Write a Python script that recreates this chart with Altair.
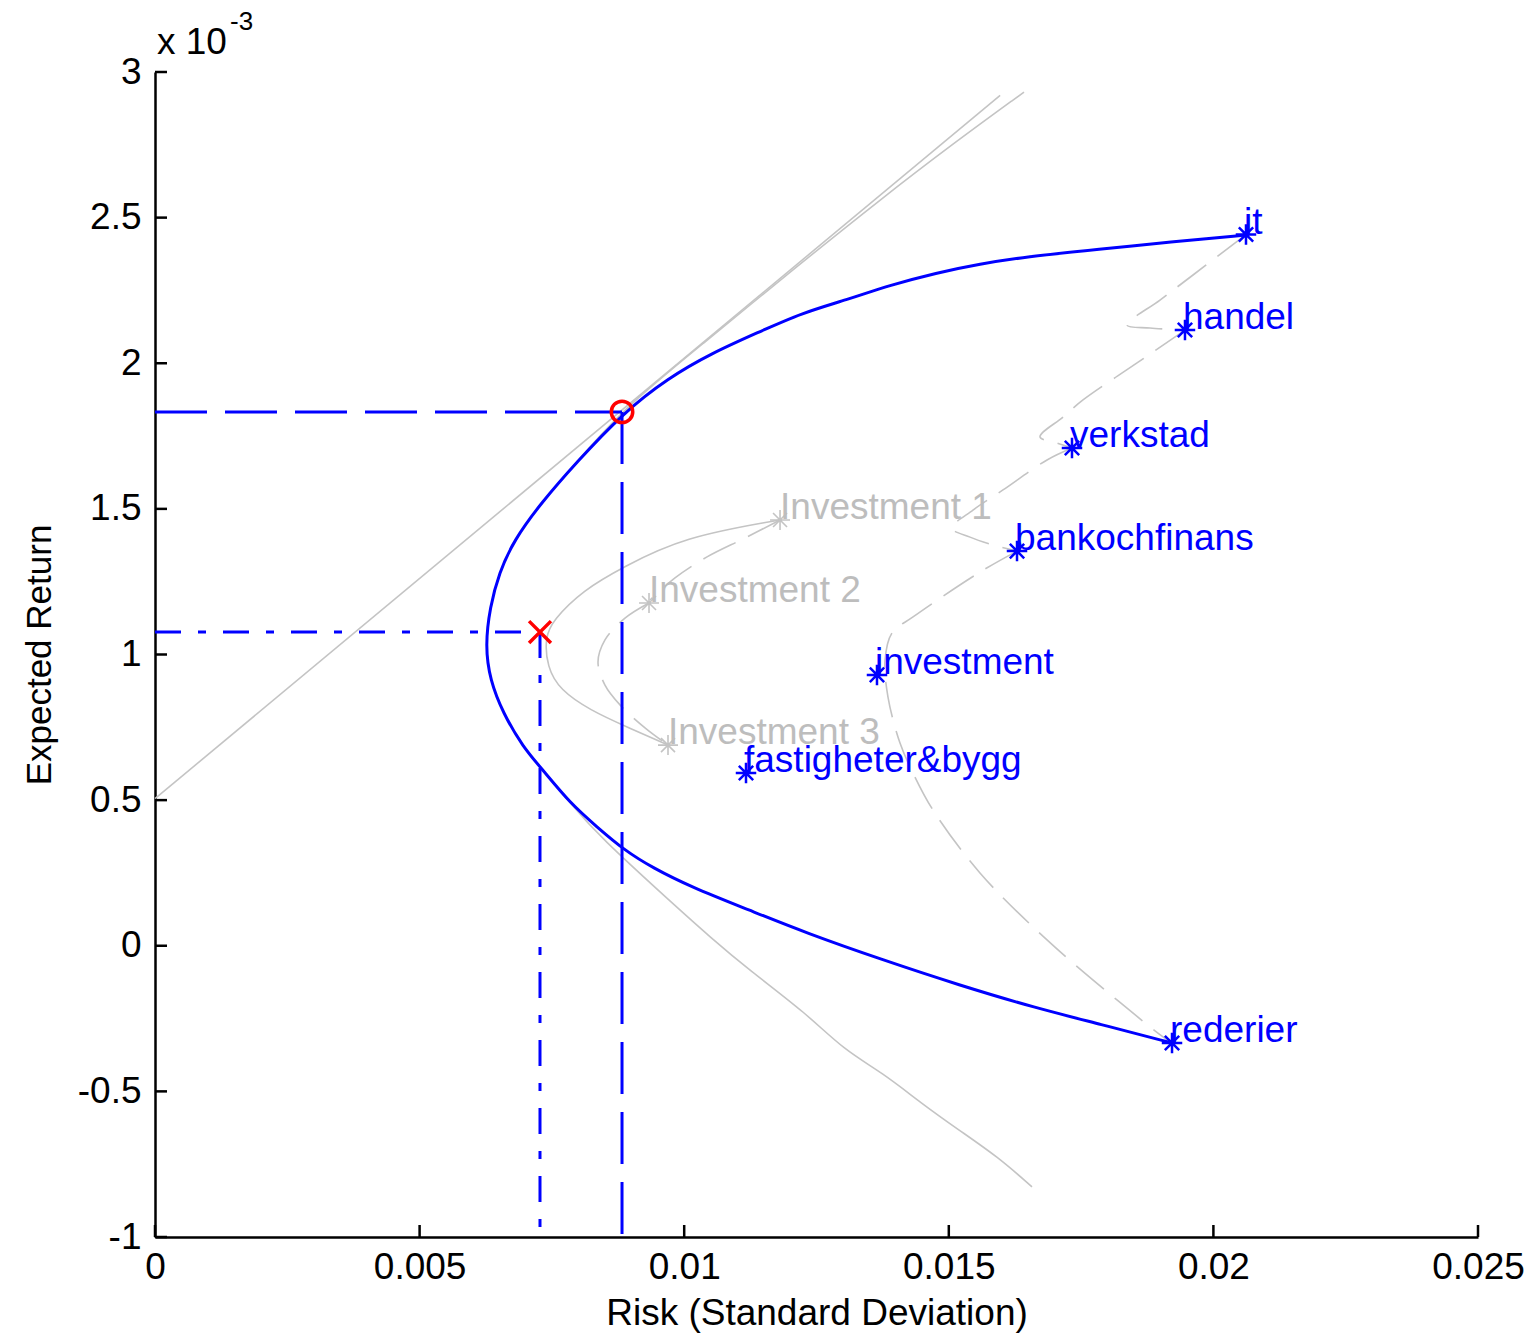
import altair as alt
import pandas as pd

# ---------------- data (sigma = risk, mu = expected return in units of 1e-3) -------------
X_TICKS = [0, 0.005, 0.01, 0.015, 0.02, 0.025]
Y_TICKS = [-1, -0.5, 0, 0.5, 1, 1.5, 2, 2.5, 3]

# efficient frontier (blue), from rederier through the vertex up to it
FRONT_SIGMA = [0.019218, 0.017857, 0.016648, 0.015192, 0.013756, 0.012301, 0.011224,
               0.010128, 0.009410, 0.008862, 0.008352, 0.007842, 0.007332, 0.006954,
               0.006576, 0.006330, 0.006240, 0.006330, 0.006500, 0.006784, 0.007294,
               0.007955, 0.008843, 0.009694, 0.010525, 0.011375, 0.012226, 0.013057,
               0.013908, 0.014758, 0.015589, 0.016440, 0.017857, 0.019180, 0.020616]
FRONT_MU = [-0.334, -0.269, -0.214, -0.135, -0.049, 0.044, 0.123,
            0.202, 0.267, 0.329, 0.408, 0.490, 0.603, 0.682,
            0.799, 0.912, 1.030, 1.163, 1.280, 1.393, 1.520,
            1.658, 1.829, 1.949, 2.035, 2.104, 2.173, 2.217,
            2.269, 2.310, 2.341, 2.365, 2.392, 2.416, 2.440]

ASSETS = ["it", "handel", "verkstad", "bankochfinans", "investment",
          "fastigheter&bygg", "rederier"]
ASSET_SIGMA = [0.020616, 0.019463, 0.017328, 0.016289, 0.013643, 0.011168, 0.019218]
ASSET_MU = [2.442, 2.114, 1.709, 1.355, 0.930, 0.593, -0.334]

# tangency portfolio (circle) and minimum-variance marker (x)
TANGENT = (0.008825, 1.833)
MINVAR = (0.007275, 1.077)

# ---- grey background elements ----
CML_SIGMA = [0.0, 0.01597]
CML_MU = [0.505, 2.920]

GFRONT_SIGMA = [0.016421, 0.015023, 0.013700, 0.012188, 0.010298, 0.008825, 0.007955,
                0.007294, 0.006784, 0.006500, 0.006330, 0.006240, 0.006330, 0.006576,
                0.006954, 0.007332, 0.007842, 0.008409, 0.009770, 0.010488, 0.011224,
                0.012301, 0.013020, 0.013756, 0.014475, 0.015192, 0.015930, 0.016572]
GFRONT_MU = [2.931, 2.746, 2.561, 2.341, 2.059, 1.840, 1.658,
             1.520, 1.393, 1.280, 1.163, 1.030, 0.912, 0.799,
             0.682, 0.603, 0.490, 0.373, 0.147, 0.030, -0.083,
             -0.231, -0.358, -0.437, -0.540, -0.633, -0.725, -0.828]

SMALL_SIGMA = [0.011811, 0.009977, 0.008844, 0.008088, 0.007521, 0.007370, 0.007408,
               0.007653, 0.008220, 0.008919, 0.009694]
SMALL_MU = [1.462, 1.403, 1.300, 1.221, 1.118, 1.060, 0.957, 0.878, 0.809, 0.751, 0.689]

INV_NAMES = ["Investment 1", "Investment 2", "Investment 3"]
INV_SIGMA = [0.011811, 0.009335, 0.009694]
INV_MU = [1.462, 1.177, 0.689]

# grey dashed curves (segments)
DASH_SEGS = {
    "i12": ([0.011811, 0.011149, 0.010431, 0.009826, 0.009354],
            [1.462, 1.400, 1.335, 1.263, 1.187]),
    "i23": ([0.009335, 0.008881, 0.008503, 0.008371, 0.008503, 0.008787, 0.009259, 0.009694],
            [1.177, 1.125, 1.050, 0.974, 0.895, 0.827, 0.748, 0.689]),
    "a": ([0.020616, 0.019615, 0.018991, 0.018367, 0.018802, 0.019463],
          [2.442, 2.303, 2.217, 2.131, 2.121, 2.114]),
    "b": ([0.019463, 0.018557, 0.017536, 0.017158, 0.016723, 0.017045, 0.017328],
          [2.114, 2.001, 1.874, 1.815, 1.747, 1.726, 1.709]),
    "c": ([0.017328, 0.016856, 0.016024, 0.015457, 0.015060, 0.015401, 0.015835, 0.016289],
          [1.709, 1.668, 1.565, 1.496, 1.434, 1.403, 1.376, 1.355]),
    "d": ([0.016289, 0.015589, 0.014324, 0.013927, 0.013795, 0.013851, 0.014078, 0.014324,
           0.014701, 0.015589, 0.016856, 0.018178, 0.019048, 0.019218],
          [1.355, 1.283, 1.129, 1.074, 0.981, 0.854, 0.696, 0.593,
           0.466, 0.250, 0.020, -0.186, -0.313, -0.334]),
}

# ---------------- styling -------------
W, H = 1323, 1165
BLUE = "#0000ff"
RED = "#ff0000"
GRAY = "#c4c4c4"
GRAYTXT = "#bdbdbd"
FONT = "Liberation Sans"

ASTERISK = "M-1,0L1,0M0,-1L0,1M-0.7,-0.7L0.7,0.7M-0.7,0.7L0.7,-0.7"
XSHAPE = "M-1,-1L1,1M-1,1L1,-1"

xscale = alt.Scale(domain=[0, 0.025], nice=False, zero=False)
yscale = alt.Scale(domain=[-1, 3], nice=False, zero=False)

xaxis = alt.Axis(values=X_TICKS, ticks=False, grid=False, labelExpr="'' + datum.value",
                 labelFlush=False, labelOverlap=False, labelPadding=12,
                 labelFontSize=37, labelFont=FONT, labelColor="black",
                 domainColor="black", domainWidth=2.5,
                 titleFontSize=37, titleFont=FONT, titleFontWeight="normal",
                 titleColor="black", titlePadding=10)
yaxis = alt.Axis(values=Y_TICKS, ticks=False, grid=False, labelExpr="'' + datum.value",
                 labelFlush=False, labelOverlap=False, labelPadding=14,
                 labelFontSize=37, labelFont=FONT, labelColor="black",
                 domainColor="black", domainWidth=2.5,
                 titleFontSize=35, titleFont=FONT, titleFontWeight="normal",
                 titleColor="black", titlePadding=20)


def X(field="sigma"):
    return alt.X(f"{field}:Q", scale=xscale, axis=xaxis, title="Risk (Standard Deviation)")


def Y(field="mu"):
    return alt.Y(f"{field}:Q", scale=yscale, axis=yaxis, title="Expected Return")


def line_df(sig, mu, seg="s"):
    return pd.DataFrame({"sigma": sig, "mu": mu, "order": list(range(len(sig))), "seg": seg})


front_df = line_df(FRONT_SIGMA, FRONT_MU)
cml_df = line_df(CML_SIGMA, CML_MU)
gfront_df = line_df(GFRONT_SIGMA, GFRONT_MU)
small_df = line_df(SMALL_SIGMA, SMALL_MU)
dash_df = pd.concat([line_df(s, m, k) for k, (s, m) in DASH_SEGS.items()], ignore_index=True)
assets_df = pd.DataFrame({"sigma": ASSET_SIGMA, "mu": ASSET_MU, "name": ASSETS})
inv_df = pd.DataFrame({"sigma": INV_SIGMA, "mu": INV_MU, "name": INV_NAMES})
tan_df = pd.DataFrame({"sigma": [TANGENT[0]], "mu": [TANGENT[1]], "zero": [0.0], "bottom": [-1.0]})
mv_df = pd.DataFrame({"sigma": [MINVAR[0]], "mu": [MINVAR[1]], "zero": [0.0], "bottom": [-1.0]})
xt_df = pd.DataFrame({"sigma": X_TICKS})
yt_df = pd.DataFrame({"mu": Y_TICKS})
exp_df = pd.DataFrame({"sigma": [0.0], "mu": [3.0]})

layers = []

# grey elements
layers.append(alt.Chart(cml_df).mark_line(color=GRAY, strokeWidth=1.6).encode(
    x=X(), y=Y(), order="order:Q"))
layers.append(alt.Chart(gfront_df).mark_line(color=GRAY, strokeWidth=1.6, interpolate="basis").encode(
    x=X(), y=Y(), order="order:Q"))
layers.append(alt.Chart(small_df).mark_line(color=GRAY, strokeWidth=1.6, interpolate="basis").encode(
    x=X(), y=Y(), order="order:Q"))
layers.append(alt.Chart(dash_df).mark_line(color=GRAY, strokeWidth=1.6, strokeDash=[36, 14],
                                           interpolate="catmull-rom").encode(
    x=X(), y=Y(), order="order:Q", detail="seg:N"))
layers.append(alt.Chart(inv_df).mark_point(shape=ASTERISK, size=400, color=GRAY, strokeWidth=1.6,
                                           filled=False, opacity=1).encode(x=X(), y=Y()))
layers.append(alt.Chart(inv_df).mark_text(align="left", baseline="middle", dx=0, dy=-12,
                                          fontSize=37, font=FONT, color=GRAYTXT).encode(
    x=X(), y=Y(), text="name:N"))

# blue frontier and assets
layers.append(alt.Chart(front_df).mark_line(color=BLUE, strokeWidth=3, interpolate="basis").encode(
    x=X(), y=Y(), order="order:Q"))
layers.append(alt.Chart(assets_df).mark_point(shape=ASTERISK, size=420, color=BLUE, strokeWidth=2.5,
                                              filled=False, opacity=1).encode(x=X(), y=Y()))
layers.append(alt.Chart(assets_df).mark_text(align="left", baseline="middle", dx=-2, dy=-12,
                                             fontSize=37, font=FONT, color=BLUE).encode(
    x=X(), y=Y(), text="name:N"))

# reference lines
layers.append(alt.Chart(tan_df).mark_rule(color=BLUE, strokeWidth=3, strokeDash=[52, 18]).encode(
    x=X("zero"), x2="sigma:Q", y=Y()))
layers.append(alt.Chart(tan_df).mark_rule(color=BLUE, strokeWidth=3, strokeDash=[52, 18]).encode(
    x=X(), y=Y(), y2="bottom:Q"))
layers.append(alt.Chart(mv_df).mark_rule(color=BLUE, strokeWidth=3, strokeDash=[26, 17, 8, 17]).encode(
    x=X("zero"), x2="sigma:Q", y=Y()))
layers.append(alt.Chart(mv_df).mark_rule(color=BLUE, strokeWidth=3, strokeDash=[26, 17, 8, 17]).encode(
    x=X(), y=Y(), y2="bottom:Q"))

# red markers
layers.append(alt.Chart(tan_df).mark_point(shape="circle", size=460, color=RED, strokeWidth=3.5,
                                           filled=False, opacity=1).encode(x=X(), y=Y()))
layers.append(alt.Chart(mv_df).mark_point(shape=XSHAPE, size=480, color=RED, strokeWidth=3.5,
                                          filled=False, opacity=1).encode(x=X(), y=Y()))

# inward tick marks (MATLAB style)
layers.append(alt.Chart(xt_df).mark_rule(color="black", strokeWidth=2.5).encode(
    x=X(), y=alt.value(H), y2=alt.value(H - 12)))
layers.append(alt.Chart(yt_df).mark_rule(color="black", strokeWidth=2.5).encode(
    y=Y(), x=alt.value(0), x2=alt.value(12)))

# exponent label
layers.append(alt.Chart(exp_df).mark_text(text="x 10", align="left", baseline="middle", dx=2, dy=-29,
                                          fontSize=37, font=FONT, color="black").encode(x=X(), y=Y()))
layers.append(alt.Chart(exp_df).mark_text(text="-3", align="left", baseline="middle", dx=75, dy=-50,
                                          fontSize=26, font=FONT, color="black").encode(x=X(), y=Y()))

chart = alt.layer(*layers).properties(
    width=W, height=H,
    autosize=alt.AutoSizeParams(type="none"),
    padding={"left": 155, "top": 72, "right": 52, "bottom": 100},
    background="white",
).configure_view(stroke=None)

chart.save("out.html", embed_options={"renderer": "svg", "actions": False})
